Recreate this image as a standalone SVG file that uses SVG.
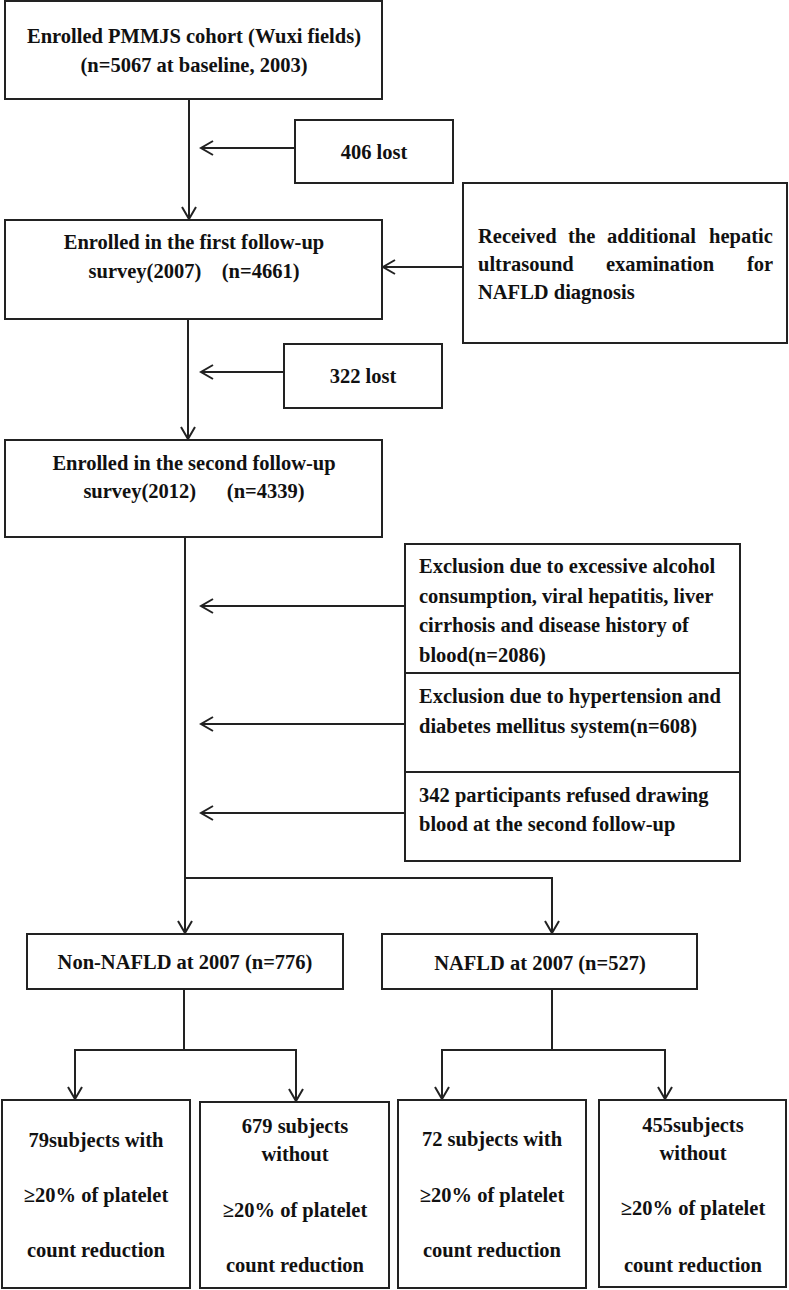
<svg xmlns="http://www.w3.org/2000/svg" width="789" height="1290" viewBox="0 0 789 1290">
<defs>
<style>
.box{fill:#fff;stroke:#222;stroke-width:2}
.ln{fill:none;stroke:#222;stroke-width:2}
.arr{fill:none;stroke:#222;stroke-width:2;marker-end:url(#ah)}
text{font-family:"Liberation Serif","Times New Roman",serif;font-weight:bold;font-size:20.5px;fill:#111;white-space:pre}
.c{text-anchor:middle}
</style>
<marker id="ah" viewBox="-13 -8 15 16" markerWidth="15" markerHeight="16" refX="0" refY="0" orient="auto" markerUnits="userSpaceOnUse">
<path d="M-12,-7 L0,0 L-12,7" fill="none" stroke="#222" stroke-width="2"/>
</marker>
</defs>
<rect width="789" height="1290" fill="#fff"/>
<g id="connectors">
<line class="arr" x1="189" y1="99" x2="189" y2="219"/>
<line class="arr" x1="295" y1="148" x2="201" y2="148"/>
<line class="arr" x1="463" y1="267" x2="383" y2="267"/>
<line class="arr" x1="188" y1="319" x2="188" y2="439"/>
<line class="arr" x1="284" y1="372" x2="201" y2="372"/>
<line class="arr" x1="185" y1="537" x2="185" y2="933"/>
<line class="arr" x1="405" y1="606" x2="201" y2="606"/>
<line class="arr" x1="405" y1="724" x2="201" y2="724"/>
<line class="arr" x1="405" y1="813" x2="201" y2="813"/>
<polyline class="arr" points="185,878 552,878 552,933"/>
<line class="ln" x1="184" y1="989" x2="184" y2="1050"/>
<line class="ln" x1="74" y1="1050" x2="297" y2="1050"/>
<line class="arr" x1="75" y1="1050" x2="75" y2="1099"/>
<line class="arr" x1="296" y1="1050" x2="296" y2="1101"/>
<line class="ln" x1="552" y1="989" x2="552" y2="1050"/>
<line class="ln" x1="441" y1="1050" x2="666" y2="1050"/>
<line class="arr" x1="442" y1="1050" x2="442" y2="1099"/>
<line class="arr" x1="665" y1="1050" x2="665" y2="1099"/>
</g>
<g id="n1">
<rect class="box" x="5" y="1" width="377" height="98"/>
<text class="c" x="194" y="43">Enrolled PMMJS cohort (Wuxi fields)</text>
<text class="c" x="194" y="72">(n=5067 at baseline, 2003)</text>
</g>
<g id="n406">
<rect class="box" x="295" y="120" width="158" height="63"/>
<text class="c" x="374" y="159">406 lost</text>
</g>
<g id="n2">
<rect class="box" x="5" y="220" width="377" height="99"/>
<text class="c" x="194" y="249">Enrolled in the first follow-up</text>
<text class="c" x="194" y="278">survey(2007)    (n=4661)</text>
</g>
<g id="nus">
<rect class="box" x="463" y="183" width="324" height="160"/>
<text y="243"><tspan x="478">Received</tspan><tspan x="568">the</tspan><tspan x="607">additional</tspan><tspan x="709">hepatic</tspan></text>
<text y="271"><tspan x="478">ultrasound</tspan><tspan x="606">examination</tspan><tspan x="747">for</tspan></text>
<text x="478" y="299">NAFLD diagnosis</text>
</g>
<g id="n322">
<rect class="box" x="284" y="344" width="158" height="64"/>
<text class="c" x="363" y="383">322 lost</text>
</g>
<g id="n3">
<rect class="box" x="5" y="440" width="377" height="97"/>
<text class="c" x="194" y="470">Enrolled in the second follow-up</text>
<text class="c" x="194" y="498">survey(2012)      (n=4339)</text>
</g>
<g id="nex1">
<rect class="box" x="405" y="544" width="335" height="129"/>
<text x="419" y="573">Exclusion due to excessive alcohol</text>
<text x="419" y="603">consumption, viral hepatitis, liver</text>
<text x="419" y="632">cirrhosis and disease history of</text>
<text x="419" y="662">blood(n=2086)</text>
</g>
<g id="nex2">
<rect class="box" x="405" y="673" width="335" height="99"/>
<text x="419" y="703">Exclusion due to hypertension and</text>
<text x="419" y="733">diabetes mellitus system(n=608)</text>
</g>
<g id="nex3">
<rect class="box" x="405" y="772" width="335" height="89"/>
<text x="419" y="802">342 participants refused drawing</text>
<text x="419" y="831">blood at the second follow-up</text>
</g>
<g id="nnon">
<rect class="box" x="27" y="934" width="316" height="55"/>
<text class="c" x="185" y="969">Non-NAFLD at 2007 (n=776)</text>
</g>
<g id="nnafld">
<rect class="box" x="382" y="934" width="315" height="55"/>
<text class="c" x="540" y="970">NAFLD at 2007 (n=527)</text>
</g>
<g id="na">
<rect class="box" x="2" y="1100" width="188" height="188"/>
<text class="c" x="96" y="1147">79subjects with</text>
<text class="c" x="96" y="1202">≥20% of platelet</text>
<text class="c" x="96" y="1257">count reduction</text>
</g>
<g id="nb">
<rect class="box" x="200" y="1102" width="189" height="186"/>
<text class="c" x="295" y="1133">679 subjects</text>
<text class="c" x="295" y="1161">without</text>
<text class="c" x="295" y="1217">≥20% of platelet</text>
<text class="c" x="295" y="1272">count reduction</text>
</g>
<g id="nc">
<rect class="box" x="398" y="1100" width="188" height="188"/>
<text class="c" x="492" y="1146">72 subjects with</text>
<text class="c" x="492" y="1202">≥20% of platelet</text>
<text class="c" x="492" y="1257">count reduction</text>
</g>
<g id="nd">
<rect class="box" x="599" y="1100" width="187" height="187"/>
<text class="c" x="693" y="1132">455subjects</text>
<text class="c" x="693" y="1160">without</text>
<text class="c" x="693" y="1215">≥20% of platelet</text>
<text class="c" x="693" y="1272">count reduction</text>
</g>
</svg>
